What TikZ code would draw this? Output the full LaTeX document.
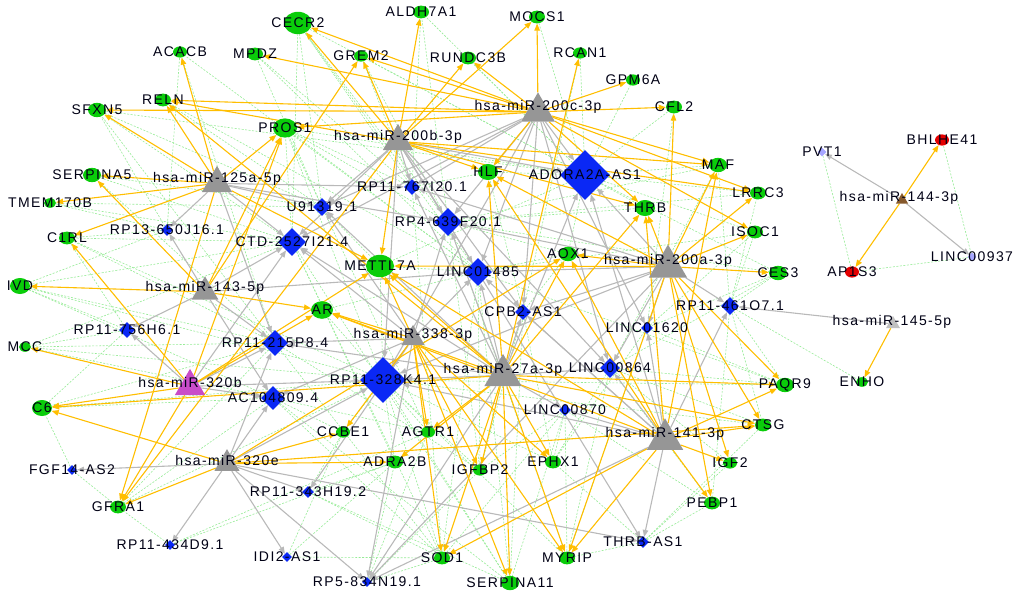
\documentclass[tikz,border=0pt]{standalone}
\usepackage{fontspec}
\setmainfont{Liberation Sans}[LetterSpace=10]
\usetikzlibrary{shapes.geometric, arrows.meta}
\definecolor{genegreen}{RGB}{10,205,10}
\definecolor{lncblue}{RGB}{10,40,245}
\definecolor{mirgray}{RGB}{150,150,150}
\definecolor{arrgold}{RGB}{255,190,0}
\definecolor{arrgray}{RGB}{185,185,185}
\definecolor{coexgreen}{RGB}{150,235,150}
\pgfdeclarelayer{edges}\pgfdeclarelayer{labels}
\pgfsetlayers{edges,main,labels}
\tikzset{gene/.style={ellipse, fill=genegreen, inner sep=0pt, minimum width=#1, minimum height=0.8*#1},
	lnc/.style={diamond, fill=lncblue, inner sep=0pt, minimum size=#1},
	mir/.style={regular polygon, regular polygon sides=3, fill=mirgray, inner sep=0pt, minimum size=#1},
	lbl/.style={font=\fontsize{14}{16}\selectfont, text=black!92!blue, inner sep=0pt},
	target/.style={draw=arrgold, line width=1.1pt, -{Triangle[length=7pt,width=5.5pt]}},
	sponge/.style={draw=arrgray, line width=1.1pt, -{Triangle[length=7pt,width=5.5pt]}},
	coexp/.style={draw=coexgreen, line width=0.6pt, dash pattern=on 2pt off 1.5pt}}

\begin{document}
\begin{tikzpicture}[x=1pt, y=-1pt]
	\useasboundingbox (0,0) rectangle (1020,599);
	%Gene
	\foreach \n/\x/\y/\sz in {CECR2/298/23/28, ALDH7A1/421/12/16, MOCS1/537/17/16, ACACB/180/52/14,
		MPDZ/255/54/16, GREM2/361/56/14, RUNDC3B/468/58/16, RCAN1/580/53/14, GPM6A/633/80/14,
		CFL2/674/107/16, RELN/163/100/16, SFXN5/97/110/18, PROS1/285/128/24, SERPINA5/92/175/18,
		HLF/488/172/20, MAF/718/165/18, THRB/645/208/20, LRRC3/758/193/16, ISOC1/755/232/16,
		CES3/778/273/18, TMEM170B/50/203/12, C1RL/67/238/16, IVD/20/286/20, METTL7A/380/266/28,
		AR/322/310/22, AOX1/568/254/18, MCC/25/347/12, C6/42/408/20, PAQR9/785/385/18,
		ENHO/862/382/12, CCBE1/343/432/14, AGTR1/428/432/14, ADRA2B/395/462/16, IGFBP2/480/470/14,
		EPHX1/553/462/16, CTSG/763/425/16, IGF2/730/463/14, PEBP1/712/503/16, GFRA1/118/507/16,
		SOD1/442/558/16, MYRIP/567/558/16, SERPINA11/510/583/18} {
		\node[gene=\sz] (\n) at (\x,\y) {};
		\begin{pgfonlayer}{labels}\node[lbl] at (\x,\y) {\n};\end{pgfonlayer}
	}
	\node[gene=14, fill=red!90!black] (BHLHE41) at (942,140) {};
	\node[gene=14, fill=red!90!black] (AP1S3) at (852,272) {};
	%lncRNAs
	\foreach \n/\x/\y/\sz/\lab in {adora/585/175/50/ADORA2A-AS1, rp767/412/187/16/RP11-767I20.1,
		u913/322/207/18/U91319.1, rp4/448/222/28/RP4-639F20.1, rp13/167/230/12/RP13-650J16.1,
		ctd/292/242/28/CTD-2527I21.4, linc1485/478/272/28/LINC01485, cpb2/523/312/16/CPB2-AS1,
		linc1620/647/328/12/LINC01620, rp461/730/306/18/RP11-461O7.1, rp756/127/330/16/RP11-756H6.1,
		rp215/275/343/26/RP11-215P8.4, linc864/610/368/20/LINC00864, rp328/383/380/46/RP11-328K4.1,
		ac104/273/398/24/AC104809.4, linc870/565/410/12/LINC00870, fgf14/72/470/10/FGF14-AS2,
		rp343/308/492/12/RP11-343H19.2, rp434/170/545/10/RP11-434D9.1, idi2/287/557/10/IDI2-AS1,
		rp834/367/582/10/RP5-834N19.1, thrbas/643/542/12/THRB-AS1} {
		\node[lnc=\sz] (\n) at (\x,\y) {};
		\begin{pgfonlayer}{labels}\node[lbl] at (\x,\y) {\lab};\end{pgfonlayer}
	}
	\node[lnc=9, fill=blue!35] (pvt1) at (822,152) {};
	\node[lnc=9, fill=blue!35] (linc937) at (972,257) {};
	%miRNAs
	\foreach \n/\x/\y/\sz/\lab in {m200c/538/107/39/hsa-miR-200c-3p, m200b/398/137/35/hsa-miR-200b-3p,
		m125a/217/179/35/hsa-miR-125a-5p, m143/205/288/31/hsa-miR-143-5p, m338/413/335/27/hsa-miR-338-3p,
		m320e/227/460/29/hsa-miR-320e, m27a/503/370/43/hsa-miR-27a-3p, m200a/668/261/44/hsa-miR-200a-3p,
		m141/665/434/42/hsa-miR-141-3p} {
		\node[mir=\sz] (\n) at (\x,{\y+\sz/8}) {};
		\begin{pgfonlayer}{labels}\node[lbl] at (\x,\y) {\lab};\end{pgfonlayer}
	}
	\node[mir=35, fill=violet!60!magenta!70] (m320b) at (190,{382+35/8}) {};
	\node[mir=16, fill=mirgray!60] (m145) at (893,{322+2}) {};
	\node[mir=14, fill=brown!70!black] (m144) at (902,{198+2}) {};
	\begin{pgfonlayer}{labels}
		\node[lbl] at (190,382) {hsa-miR-320b};
		\node[lbl] at (892,322) {hsa-miR-145-5p};
		\node[lbl] at (899,198) {hsa-miR-144-3p};
		\node[lbl] at (942,140) {BHLHE41};
		\node[lbl] at (852,272) {AP1S3};
		\node[lbl] at (822,152) {PVT1};
		\node[lbl] at (972,257) {LINC00937};
	\end{pgfonlayer}
	\begin{pgfonlayer}{edges}
	%Koexpression lncRNA - Gen
	\foreach \a/\bs in {adora/{CECR2,ALDH7A1,MOCS1,RCAN1,GPM6A,CFL2,MAF,LRRC3,ISOC1,THRB,HLF,AOX1,PROS1,GREM2,RUNDC3B,SFXN5,METTL7A,CES3},
		rp328/{C6,MCC,IVD,AR,METTL7A,CCBE1,AGTR1,ADRA2B,IGFBP2,SOD1,SERPINA11,MYRIP,EPHX1,GFRA1,PROS1,C1RL,PAQR9,CTSG},
		linc1485/{ACACB,RELN,CECR2,MPDZ,PROS1,METTL7A,AOX1,AR,SERPINA11,SOD1,IGFBP2,PAQR9,ISOC1},
		ctd/{SFXN5,SERPINA5,TMEM170B,C1RL,IVD,CECR2,PROS1,MCC,SOD1,SERPINA11,ADRA2B},
		rp4/{CECR2,ALDH7A1,GREM2,PROS1,MAF,CES3,LRRC3,THRB,AOX1,IGFBP2,MYRIP},
		rp215/{IVD,C1RL,MCC,C6,GFRA1,SERPINA5,ACACB,SFXN5,IGFBP2,SOD1},
		ac104/{C6,MCC,IVD,GFRA1,SOD1,SERPINA11,CCBE1,AGTR1},
		u913/{PROS1,CECR2,MPDZ,RELN,SFXN5,SERPINA5,TMEM170B,METTL7A,AGTR1},
		rp767/{CECR2,MPDZ,GREM2,ALDH7A1,PROS1,HLF,SOD1},
		linc864/{PAQR9,CTSG,IGF2,PEBP1,MAF,CES3,MYRIP,EPHX1},
		linc1620/{ISOC1,CES3,PAQR9,MYRIP,EPHX1,CFL2},
		linc870/{SERPINA11,MYRIP,IGFBP2,EPHX1,PEBP1,SOD1},
		cpb2/{AOX1,HLF,EPHX1,IGFBP2,SERPINA11,RCAN1},
		rp461/{ENHO,PAQR9,CES3,ISOC1,LRRC3,MAF,PEBP1,CTSG},
		rp13/{TMEM170B,C1RL,IVD,SFXN5,ACACB}, rp756/{MCC,IVD,C1RL,C6}, fgf14/{C6,GFRA1},
		rp343/{SERPINA11,SOD1,ADRA2B,CCBE1}, rp434/{GFRA1,ADRA2B,AGTR1}, idi2/{ADRA2B,CCBE1,SOD1},
		rp834/{IGFBP2,SOD1,ADRA2B,AGTR1}, thrbas/{MYRIP,PEBP1,IGF2,EPHX1,CTSG},
		pvt1/{AP1S3}, linc937/{BHLHE41,AP1S3}}
		\foreach \b in \bs \draw[coexp] (\a) -- (\b);
	%miRNA -> lncRNA
	\foreach \a/\bs in {m200c/{adora,rp767,linc1485,rp4,u913,cpb2,linc1620,linc864,rp328,ctd},
		m200b/{rp767,u913,adora,rp4,linc1485,ctd,rp328,thrbas,linc864,cpb2},
		m125a/{u913,ctd,rp13,rp4,rp215,rp767}, m143/{rp756,rp13,ctd,rp215,ac104,linc1485},
		m320b/{rp756,rp215,ac104,rp328,ctd},
		m320e/{fgf14,rp434,idi2,rp343,ac104,rp328,rp215,thrbas,rp834},
		m338/{rp328,linc1485,ctd,rp215,ac104,rp834,rp343,rp4,u913},
		m27a/{rp328,linc864,linc1485,cpb2,adora,rp4,linc870,rp834,u913,rp767,ctd,rp215},
		m200a/{rp461,adora,linc1485,linc1620,linc864,cpb2,rp328,rp834,rp4,rp767},
		m141/{thrbas,rp461,linc1620,linc864,linc870,adora,rp834,rp328,cpb2,linc1485},
		m145/{rp461}, m144/{pvt1,linc937}}
		\foreach \b in \bs \draw[sponge] (\a) -- (\b);
	%miRNA -> Gen
	\foreach \a/\bs in {m200c/{MOCS1,RUNDC3B,GPM6A,CFL2,GREM2,CECR2,MPDZ,RELN,HLF,MAF,THRB,ISOC1,LRRC3,PROS1,SFXN5},
		m200b/{ALDH7A1,GREM2,CECR2,MOCS1,RUNDC3B,RELN,HLF,MAF,THRB,METTL7A,LRRC3,GFRA1},
		m125a/{ACACB,SFXN5,RELN,SERPINA5,PROS1,TMEM170B,C1RL,METTL7A,GFRA1},
		m143/{IVD,SERPINA5,PROS1,AR,GREM2},
		m320b/{MCC,C6,C1RL,AR,PROS1,GFRA1,METTL7A},
		m320e/{C6,GFRA1,CCBE1,ADRA2B,CTSG,AOX1},
		m338/{AR,SERPINA11,MYRIP,EPHX1,IGFBP2,AGTR1,METTL7A,SOD1,CCBE1},
		m27a/{RCAN1,HLF,AOX1,METTL7A,AR,IGFBP2,SOD1,SERPINA11,MYRIP,EPHX1,AGTR1,CTSG,THRB,ADRA2B,C6,PAQR9,RELN},
		m200a/{CFL2,MAF,THRB,AOX1,CES3,ISOC1,HLF,PEBP1,CTSG,PAQR9,LRRC3,METTL7A,IGF2,MYRIP},
		m141/{PEBP1,IGF2,CTSG,MYRIP,THRB,MAF,AOX1,HLF,PAQR9,SOD1,METTL7A,AR},
		m144/{BHLHE41,AP1S3}, m145/{ENHO}}
		\foreach \b in \bs \draw[target] (\a) -- (\b);
	\end{pgfonlayer}
\end{tikzpicture}
\end{document}
